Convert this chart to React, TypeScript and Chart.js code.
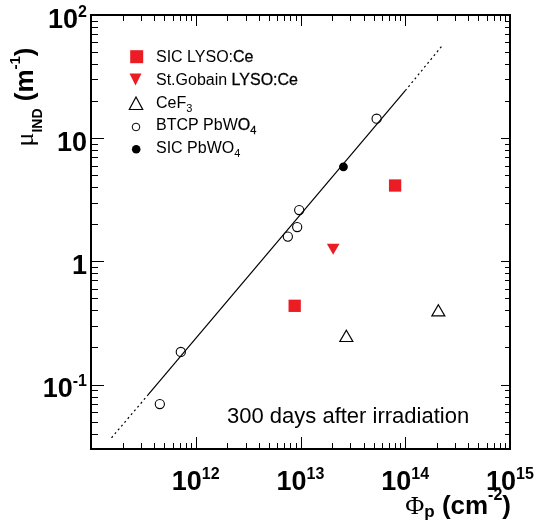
import React, { useEffect, useRef } from 'react';
import { Chart, registerables } from 'chart.js';

Chart.register(...registerables);

// ---- data ----
const sicLysoX = [8.8e12, 8.0e13];
const sicLysoY = [0.436, 4.13];
const sgLysoX = [2.05e13];
const sgLysoY = [1.3];
const cef3X = [2.74e13, 2.07e14];
const cef3Y = [0.24, 0.387];
const btcpX = [4.54e11, 7.2e11, 7.57e12, 9.3e12, 9.72e12, 5.33e13];
const btcpY = [0.0695, 0.184, 1.59, 1.9, 2.61, 14.4];
const sicPbwoX = [2.57e13];
const sicPbwoY = [5.86];
// fit line: dotted extension / solid part / dotted extension
const fitX = [1.57e11, 3.5e11, 1.0e14, 2.26e14];
const fitY = [0.037, 0.0824, 24.3, 56.6];

const xMin = 1e11;
const xMax = 1e15;
const yMin = 0.03;
const yMax = 100;

const xTickValues = [1e12, 1e13, 1e14, 1e15];
const xTickBase = ['10', '10', '10', '10'];
const xTickExp = ['12', '13', '14', '15'];
const yTickValues = [0.1, 1, 10, 100];
const yTickBase = ['10', '1', '10', '10'];
const yTickExp = ['-1', '', '', '2'];

const legendNames = ['SIC LYSO:Ce', 'St.Gobain LYSO:Ce', 'CeF3', 'BTCP PbWO4', 'SIC PbWO4'];
const noteText = '300 days after irradiation';

const RED = 'rgb(236,28,36)';
const SANS = '"Liberation Sans", Arial, Helvetica, sans-serif';
const SERIF = '"Liberation Serif", "DejaVu Serif", serif';

type Run = { t: string; f: string; dy?: number; heavy?: boolean };

function runsWidth(ctx: CanvasRenderingContext2D, runs: Run[]) {
  let w = 0;
  for (const r of runs) {
    ctx.font = r.f;
    w += ctx.measureText(r.t).width;
  }
  return w;
}

function drawRuns(ctx: CanvasRenderingContext2D, runs: Run[], x: number, y: number, align: 'left' | 'center' | 'right') {
  const w = runsWidth(ctx, runs);
  let cx = align === 'left' ? x : align === 'center' ? x - w / 2 : x - w;
  ctx.textAlign = 'left';
  ctx.textBaseline = 'alphabetic';
  for (const r of runs) {
    ctx.font = r.f;
    ctx.fillText(r.t, cx, y + (r.dy || 0));
    if (r.heavy) {
      ctx.lineWidth = 0.3;
      ctx.strokeText(r.t, cx, y + (r.dy || 0));
    }
    cx += ctx.measureText(r.t).width;
  }
}

const decorPlugin = {
  id: 'decor',
  afterDraw(chart: any) {
    const ctx: CanvasRenderingContext2D = chart.ctx;
    const { left, right, top, bottom } = chart.chartArea;
    const xs = chart.scales.x;
    const ys = chart.scales.y;
    ctx.save();
    ctx.strokeStyle = '#000';
    ctx.fillStyle = '#000';
    ctx.lineWidth = 1;
    const seg = (x1: number, y1: number, x2: number, y2: number) => {
      ctx.beginPath();
      ctx.moveTo(x1, y1);
      ctx.lineTo(x2, y2);
      ctx.stroke();
    };
    // x ticks
    for (let e = 11; e <= 15; e++) {
      for (let m = 1; m <= 9; m++) {
        const v = m * Math.pow(10, e);
        if (v < xMin * 1.0001 || v > xMax * 1.0001) continue;
        const px = Math.round(xs.getPixelForValue(v)) + 0.5;
        const major = m === 1;
        seg(px, bottom, px, bottom - (major ? 12 : 6));
        seg(px, top, px, top + (major ? 11 : 6));
      }
    }
    // y ticks
    for (let e = -2; e <= 2; e++) {
      for (let m = 1; m <= 9; m++) {
        const v = m * Math.pow(10, e);
        if (v < yMin * 0.9999 || v > yMax * 1.0001) continue;
        const py = Math.round(ys.getPixelForValue(v)) + 0.5;
        const major = m === 1;
        seg(left, py, left + (major ? 13 : 7), py);
        seg(right, py, right - (major ? 9 : 5), py);
      }
    }
    // frame
    ctx.lineWidth = 2;
    ctx.strokeRect(left, top, right - left, bottom - top);

    // x tick labels
    xTickValues.forEach((v, i) => {
      const px = xs.getPixelForValue(v);
      drawRuns(ctx, [
        { t: xTickBase[i], f: `bold 27px ${SANS}` },
        { t: xTickExp[i], f: `bold 16px ${SANS}`, dy: -11 },
      ], px, 490, 'center');
    });
    // y tick labels
    yTickValues.forEach((v, i) => {
      const py = ys.getPixelForValue(v);
      const runs: Run[] = [{ t: yTickBase[i], f: `bold 27px ${SANS}` }];
      if (yTickExp[i]) runs.push({ t: yTickExp[i], f: `bold 16px ${SANS}`, dy: -11 });
      drawRuns(ctx, runs, 87, py + 12.5, 'right');
    });

    // x axis title
    drawRuns(ctx, [
      { t: '\u03A6', f: `26px ${SERIF}` },
      { t: 'p', f: `bold 17px ${SANS}`, dy: 3 },
      { t: ' (cm', f: `bold 26px ${SANS}` },
      { t: '-2', f: `bold 16px ${SANS}`, dy: -14 },
      { t: ')', f: `bold 26px ${SANS}` },
    ], 511, 514, 'right');

    // y axis title
    ctx.save();
    ctx.translate(33, 97);
    ctx.rotate(-Math.PI / 2);
    drawRuns(ctx, [
      { t: '\u03BC', f: `26px ${SERIF}` },
      { t: 'IND', f: `bold 14px ${SANS}`, dy: 9 },
      { t: ' (m', f: `bold 26px ${SANS}` },
      { t: '-1', f: `bold 15px ${SANS}`, dy: -13 },
      { t: ')', f: `bold 26px ${SANS}` },
    ], 0, 0, 'center');
    ctx.restore();

    // note
    ctx.fillStyle = '#000';
    drawRuns(ctx, [{ t: noteText, f: `22px ${SANS}` }], 227, 423, 'left');

    // legend
    const tx = 156;
    const base = [62.3, 85, 107.5, 130, 152.7];
    const fN = `16px ${SANS}`;
    const fS = `11px ${SANS}`;
    // markers
    ctx.fillStyle = RED;
    ctx.fillRect(130.2, 50.2, 13, 13);
    ctx.beginPath();
    ctx.moveTo(129.5, 73.5);
    ctx.lineTo(141.5, 73.5);
    ctx.lineTo(135.5, 85.5);
    ctx.closePath();
    ctx.fill();
    ctx.strokeStyle = '#000';
    ctx.lineWidth = 1.2;
    ctx.beginPath();
    ctx.moveTo(136, 97);
    ctx.lineTo(142.7, 109.5);
    ctx.lineTo(129.3, 109.5);
    ctx.closePath();
    ctx.stroke();
    ctx.lineWidth = 1;
    ctx.beginPath();
    ctx.arc(136, 127, 3.8, 0, Math.PI * 2);
    ctx.stroke();
    ctx.fillStyle = '#000';
    ctx.beginPath();
    ctx.arc(136.2, 149.2, 4.3, 0, Math.PI * 2);
    ctx.fill();
    // texts
    ctx.fillStyle = '#000';
    ctx.strokeStyle = '#000';
    drawRuns(ctx, [
      { t: 'SIC LYSO:', f: fN },
      { t: 'Ce', f: fN, heavy: true },
    ], tx, base[0], 'left');
    drawRuns(ctx, [
      { t: 'St.Gobain ', f: fN },
      { t: 'LYSO:Ce', f: fN, heavy: true },
    ], tx, base[1], 'left');
    drawRuns(ctx, [
      { t: 'CeF', f: fN },
      { t: '3', f: fS, dy: 4 },
    ], tx, base[2], 'left');
    drawRuns(ctx, [
      { t: 'BTCP PbW', f: fN },
      { t: 'O', f: fN, heavy: true },
      { t: '4', f: fS, dy: 4, heavy: true },
    ], tx, base[3], 'left');
    drawRuns(ctx, [
      { t: 'SIC PbWO', f: fN },
      { t: '4', f: fS, dy: 4 },
    ], tx, base[4], 'left');
    ctx.restore();
  },
};

const pts = (xs: number[], ys: number[]) => xs.map((x, i) => ({ x, y: ys[i] }));

export default function App() {
  const ref = useRef<HTMLCanvasElement | null>(null);
  useEffect(() => {
    if (!ref.current) return;
    const chart = new Chart(ref.current, {
      type: 'scatter',
      data: {
        datasets: [
          {
            type: 'line',
            label: 'fit',
            data: pts(fitX, fitY),
            borderColor: '#000',
            borderWidth: 1.2,
            pointRadius: 0,
            fill: false,
            tension: 0,
            segment: {
              borderDash: (c: any) => (c.p0DataIndex === 1 ? [] : [2, 3]),
            },
          } as any,
          {
            label: legendNames[0],
            data: pts(sicLysoX, sicLysoY),
            pointStyle: 'rect',
            pointRadius: 8.7,
            backgroundColor: RED,
            borderWidth: 0,
          },
          {
            label: legendNames[1],
            data: pts(sgLysoX, sgLysoY),
            pointStyle: 'triangle',
            pointRotation: 180,
            pointRadius: 7.3,
            backgroundColor: RED,
            borderWidth: 0,
          },
          {
            label: legendNames[2],
            data: pts(cef3X, cef3Y),
            pointStyle: 'triangle',
            pointRadius: 7.5,
            backgroundColor: 'rgba(0,0,0,0)',
            borderColor: '#000',
            borderWidth: 1.2,
          },
          {
            label: legendNames[3],
            data: pts(btcpX, btcpY),
            pointStyle: 'circle',
            pointRadius: 4.6,
            backgroundColor: 'rgba(0,0,0,0)',
            borderColor: '#000',
            borderWidth: 1.1,
          },
          {
            label: legendNames[4],
            data: pts(sicPbwoX, sicPbwoY),
            pointStyle: 'circle',
            pointRadius: 4.4,
            backgroundColor: '#000',
            borderColor: '#000',
            borderWidth: 0,
          },
        ],
      },
      options: {
        responsive: false,
        animation: false,
        devicePixelRatio: 1,
        events: [],
        layout: { padding: { left: 91, right: 27, top: 15, bottom: 82 } },
        plugins: { legend: { display: false }, tooltip: { enabled: false } },
        scales: {
          x: { type: 'logarithmic', min: xMin, max: xMax, display: false },
          y: { type: 'logarithmic', min: yMin, max: yMax, display: false },
        },
      },
      plugins: [decorPlugin],
    });
    return () => chart.destroy();
  }, []);
  return (
    <div style={{ position: 'absolute', left: 0, top: 0, width: 537, height: 531 }}>
      <canvas ref={ref} width={537} height={531} />
    </div>
  );
}
